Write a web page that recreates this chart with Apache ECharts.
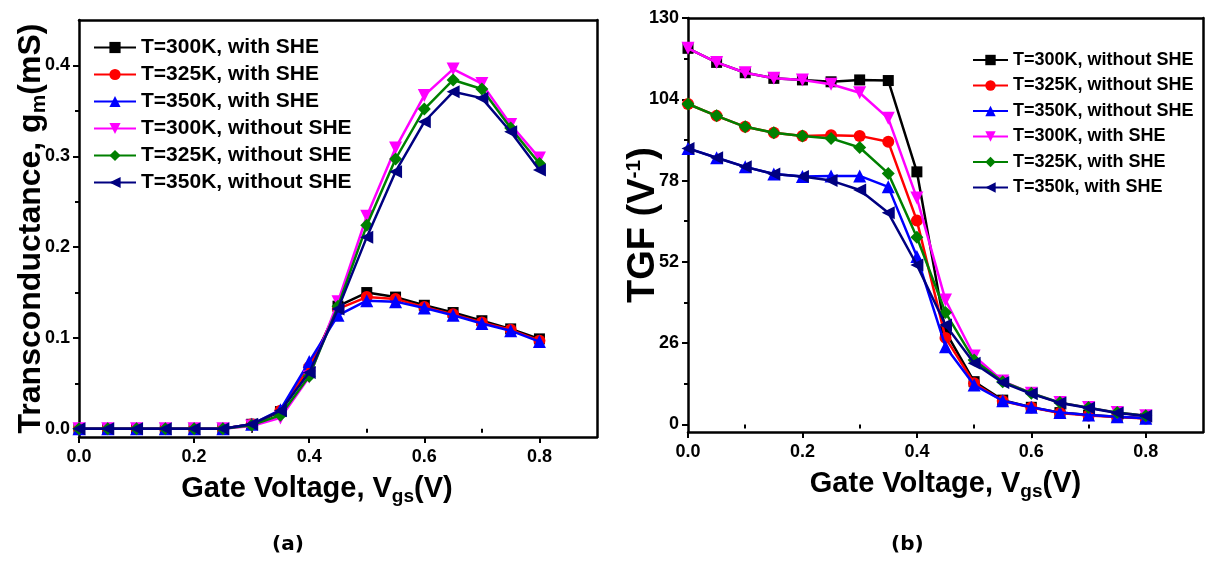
<!DOCTYPE html>
<html><head><meta charset="utf-8">
<script src="https://cdn.jsdelivr.net/npm/echarts@6/dist/echarts.min.js"></script>
<style>html,body{margin:0;padding:0;background:#fff}#c{width:1206px;height:561px}</style>
</head><body><div id="c"></div>
<script>
// ---------- data ----------
const vgs = [0,0.05,0.1,0.15,0.2,0.25,0.3,0.35,0.4,0.45,0.5,0.55,0.6,0.65,0.7,0.75,0.8];

// (a) transconductance gm (mS)
const gm300With    = [0,0,0,0,0,0,0.005,0.019,0.065,0.135,0.150,0.145,0.136,0.128,0.119,0.110,0.099];
const gm325With    = [0,0,0,0,0,0,0.005,0.020,0.068,0.132,0.145,0.143,0.134,0.126,0.117,0.109,0.097];
const gm350With    = [0,0,0,0,0,0,0.005,0.021,0.074,0.125,0.141,0.140,0.133,0.125,0.116,0.108,0.096];
const gm300Without = [0,0,0,0,0,0,0.003,0.012,0.057,0.140,0.234,0.309,0.367,0.396,0.380,0.335,0.298];
const gm325Without = [0,0,0,0,0,0,0.004,0.015,0.058,0.135,0.224,0.297,0.352,0.384,0.374,0.331,0.292];
const gm350Without = [0,0,0,0,0,0,0.005,0.020,0.062,0.132,0.211,0.283,0.338,0.371,0.364,0.327,0.285];

// (b) TGF (1/V)
const tgf300Without = [120.3,115.8,112.5,110.7,110.2,109.6,110.2,110.0,80.8,29.7,13.7,7.8,5.5,3.8,3.0,2.5,2.0];
const tgf325Without = [102.5,98.7,95.2,93.3,92.3,92.5,92.3,90.4,65.2,27.7,13.2,7.5,5.4,3.7,2.9,2.4,1.9];
const tgf350Without = [88.3,85.3,82.4,80.1,79.3,79.5,79.5,76.0,53.7,24.9,12.6,7.6,5.5,3.8,3.0,2.5,2.0];
const tgf300With    = [120.3,115.8,112.5,110.7,110.2,108.8,106.1,97.9,72.4,39.8,21.9,13.9,10.0,7.0,5.4,3.8,2.8];
const tgf325With    = [102.5,98.7,95.2,93.3,92.3,91.5,88.6,80.3,59.9,35.8,20.6,13.7,10.0,7.0,5.4,3.8,2.8];
const tgf350With    = [88.3,85.3,82.4,80.1,79.3,78.0,75.0,67.7,51.0,31.8,19.6,13.4,9.8,6.9,5.3,3.7,2.7];

const namesA = ['T=300K, with SHE','T=325K, with SHE','T=350K, with SHE','T=300K, without SHE','T=325K, without SHE','T=350K, without SHE'];
const namesB = ['T=300K, without SHE','T=325K, without SHE','T=350K, without SHE','T=300K, with SHE','T=325K, with SHE','T=350k, with SHE'];

const xMajorTicks = [0,0.2,0.4,0.6,0.8];
const xMinorTicks = [0.1,0.3,0.5,0.7];
const yAMajorTicks = [0,0.1,0.2,0.3,0.4];
const yAMinorTicks = [0.05,0.15,0.25,0.35];
const yBMajorTicks = [0,26,52,78,104,130];
const yBMinorTicks = [13,39,65,91,117];

// ---------- styling ----------
const FONT = '"Liberation Sans", Arial, sans-serif';
const colors = ['#000000','#ff0000','#0000ff','#ff00ff','#008000','#000080'];
const symbols = ['rect','circle','triangle','triangle','diamond','triangle'];
const rotates = [0,0,0,180,0,90];
const sizes = [11,12,13,13,13,13];

const chart = echarts.init(document.getElementById('c'), null, {renderer:'canvas'});

function pairs(ys){ return vgs.map((x,i)=>[x,ys[i]]); }

function mkSeries(prefix, names, arrays, xi, yi){
  return arrays.map((arr,i)=>({
    type:'line', name: prefix + names[i], xAxisIndex: xi, yAxisIndex: yi,
    data: pairs(arr), symbol: symbols[i], symbolSize: sizes[i], symbolRotate: rotates[i],
    lineStyle:{color:colors[i], width:2.5}, itemStyle:{color:colors[i]},
    emphasis:{disabled:true}, animation:false, z: 2+i
  }));
}

function rich(fs, subFs, shift){
  return {
    n:{fontSize:fs,fontWeight:'bold',fontFamily:FONT,color:'#000',lineHeight:fs+6,verticalAlign:'middle'},
    sub:{fontSize:subFs,fontWeight:'bold',fontFamily:FONT,color:'#000',lineHeight:subFs,padding:[shift,0,0,0],verticalAlign:'middle'},
    sup:{fontSize:subFs,fontWeight:'bold',fontFamily:FONT,color:'#000',lineHeight:subFs,padding:[0,0,shift,0],verticalAlign:'middle'}
  };
}

function xAxes(grid, nameText, namePad){
  return [
    {type:'value', gridIndex:grid, position:'bottom', min:0, max:0.9,
     axisLine:{show:true,onZero:false,lineStyle:{color:'#000',width:2.5}},
     axisTick:{show:true,customValues:xMajorTicks,length:6,lineStyle:{color:'#000',width:2}},
     axisLabel:{show:true,customValues:xMajorTicks,margin:11,formatter:v=>v.toFixed(1),
       fontSize:18,fontWeight:'bold',fontFamily:FONT,color:'#000'},
     splitLine:{show:false},
     name:nameText, nameLocation:'middle', nameGap:34,
     nameTextStyle:{rich:rich(29,19,16), padding:namePad}},
    {type:'value', gridIndex:grid, position:'bottom', min:0, max:0.9,
     axisLine:{show:false}, axisLabel:{show:false}, splitLine:{show:false},
     axisTick:{show:true,customValues:xMinorTicks,length:4,lineStyle:{color:'#000',width:2}}},
    {type:'value', gridIndex:grid, position:'top', min:0, max:0.9,
     axisLine:{show:true,onZero:false,lineStyle:{color:'#000',width:2.5}},
     axisTick:{show:false}, axisLabel:{show:false}, splitLine:{show:false}}
  ];
}
function yAxes(grid, mn, mx, major, minor, fmt, nameText, gap, nameRich){
  return [
    {type:'value', gridIndex:grid, position:'left', min:mn, max:mx,
     axisLine:{show:true,onZero:false,lineStyle:{color:'#000',width:2.5}},
     axisTick:{show:true,customValues:major,length:6,lineStyle:{color:'#000',width:2}},
     axisLabel:{show:true,customValues:major,margin:9,formatter:fmt,
       fontSize:18,fontWeight:'bold',fontFamily:FONT,color:'#000'},
     splitLine:{show:false},
     name:nameText, nameLocation:'middle', nameGap:gap, nameRotate:90, nameMoveOverlap:false,
     nameTextStyle:{rich:nameRich}},
    {type:'value', gridIndex:grid, position:'left', min:mn, max:mx,
     axisLine:{show:false}, axisLabel:{show:false}, splitLine:{show:false},
     axisTick:{show:true,customValues:minor,length:4,lineStyle:{color:'#000',width:2}}},
    {type:'value', gridIndex:grid, position:'right', min:mn, max:mx,
     axisLine:{show:true,onZero:false,lineStyle:{color:'#000',width:2.5}},
     axisTick:{show:false}, axisLabel:{show:false}, splitLine:{show:false}}
  ];
}

const option = {
  backgroundColor:'#fff',
  animation:false,
  grid:[
    {left:79, top:20, width:518, height:417, containLabel:false},
    {left:688, top:18, width:515, height:414, containLabel:false}
  ],
  xAxis:[].concat(
    xAxes(0, '{n|Gate Voltage, V}{sub|gs}{n|(V)}', [0,42,0,0]),
    xAxes(1, '{n|Gate Voltage, V}{sub|gs}{n|(V)}', [0,0,0,0])
  ),
  yAxis:[].concat(
    yAxes(0, -0.009, 0.45, yAMajorTicks, yAMinorTicks, v=>v.toFixed(1),
          '{n|Transconductance, g}{sub|m}{n|(mS)}', 29, rich(32,21,16)),
    yAxes(1, -2.4, 130, yBMajorTicks, yBMinorTicks, v=>String(v),
          '{n|TGF (V}{sup|-1}{n|)}', 22, rich(38,21,19))
  ),
  legend:[
    {left:88, top:32, orient:'vertical', itemWidth:42, itemHeight:14, itemGap:6,
     data: namesA.map(n=>'a:'+n), formatter:n=>n.slice(2),
     textStyle:{fontSize:21,fontWeight:'bold',fontFamily:FONT,color:'#000'}, selectedMode:false},
    {left:967, top:46, orient:'vertical', itemWidth:35, itemHeight:13, itemGap:7.5,
     data: namesB.map(n=>'b:'+n), formatter:n=>n.slice(2),
     textStyle:{fontSize:18,fontWeight:'bold',fontFamily:FONT,color:'#000'}, selectedMode:false}
  ],
  graphic:[
    {type:'text', left:272, top:535, style:{text:'(a)', font:'bold 20px "DejaVu Sans"', fill:'#000'}},
    {type:'text', left:891, top:535, style:{text:'(b)', font:'bold 20px "DejaVu Sans"', fill:'#000'}}
  ],
  series:[].concat(
    mkSeries('a:', namesA, [gm300With,gm325With,gm350With,gm300Without,gm325Without,gm350Without], 0, 0),
    mkSeries('b:', namesB, [tgf300Without,tgf325Without,tgf350Without,tgf300With,tgf325With,tgf350With], 3, 3)
  )
};
chart.setOption(option);
</script></body></html>
